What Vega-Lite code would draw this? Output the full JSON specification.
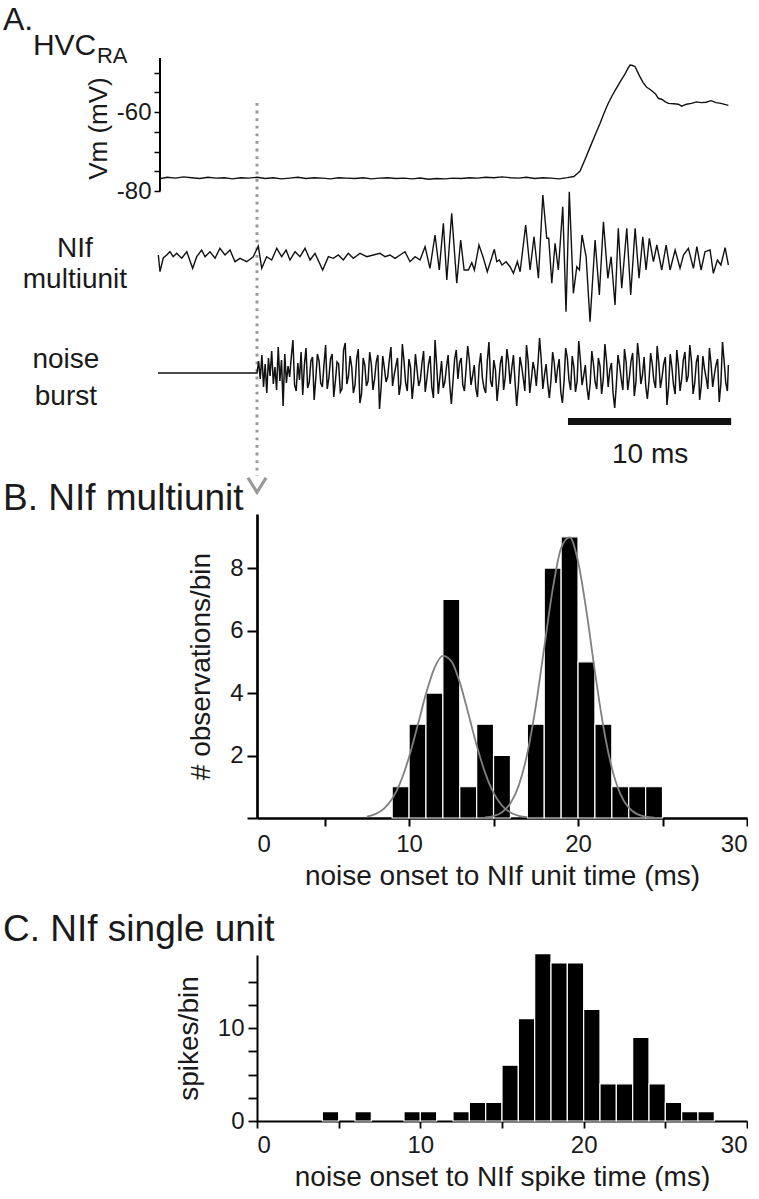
{
"$schema": "https://vega.github.io/schema/vega-lite/v6.json",
"padding": {"left": 3, "top": 3, "right": 0, "bottom": 0},
"bounds": "flush",
"spacing": 137,
"config": {
  "view": {"stroke": null},
  "font": "Liberation Sans",
  "axis": {"labelFont": "Liberation Sans", "titleFont": "Liberation Sans", "labelColor": "#1a1a1a", "titleColor": "#1a1a1a", "domainColor": "#000", "tickColor": "#000", "grid": false, "titleFontWeight": "normal", "labelFontSize": 24, "titleFontSize": 28, "zindex": 1},
  "title": {"font": "Liberation Sans", "fontWeight": "normal", "color": "#1a1a1a", "anchor": "start", "frame": "group"},
  "text": {"font": "Liberation Sans", "color": "#1a1a1a"}
},
"datasets": {
  "hvc": [
    {"t":-5.88,"v":-76.8},{"t":-5.5,"v":-76.5},{"t":-5.0,"v":-76.7},{"t":-4.5,"v":-76.4},{"t":-4.0,"v":-76.6},{"t":-3.5,"v":-76.8},{"t":-3.0,"v":-76.5},{"t":-2.5,"v":-76.7},{"t":-2.0,"v":-76.6},{"t":-1.5,"v":-76.9},{"t":-1.0,"v":-76.6},{"t":-0.5,"v":-76.7},{"t":0,"v":-76.5},{"t":0.5,"v":-76.8},{"t":1.0,"v":-76.6},{"t":1.5,"v":-76.9},{"t":2.0,"v":-76.7},{"t":2.5,"v":-76.5},{"t":3.0,"v":-76.8},{"t":3.5,"v":-76.6},{"t":4.0,"v":-76.7},{"t":4.5,"v":-76.9},{"t":5.0,"v":-76.6},{"t":5.5,"v":-76.7},{"t":6.0,"v":-76.8},{"t":6.5,"v":-76.6},{"t":7.0,"v":-76.9},{"t":7.5,"v":-76.7},{"t":8.0,"v":-76.6},{"t":8.5,"v":-76.8},{"t":9.0,"v":-76.7},{"t":9.5,"v":-76.9},{"t":10.0,"v":-76.7},{"t":10.5,"v":-77.0},{"t":11.0,"v":-76.8},{"t":11.5,"v":-76.9},{"t":12.0,"v":-76.7},{"t":12.5,"v":-76.8},{"t":13.0,"v":-76.6},{"t":13.5,"v":-76.7},{"t":14.0,"v":-76.5},{"t":14.5,"v":-76.6},{"t":15.0,"v":-76.4},{"t":15.5,"v":-76.6},{"t":16.0,"v":-76.7},{"t":16.5,"v":-76.5},{"t":17.0,"v":-76.8},{"t":17.5,"v":-76.6},{"t":18.0,"v":-76.7},{"t":18.5,"v":-76.9},{"t":19.0,"v":-76.6},{"t":19.4,"v":-76.3},{"t":19.6,"v":-75.6},{"t":19.78,"v":-74.9},{"t":20.1,"v":-71.8},{"t":20.4,"v":-68.8},{"t":20.7,"v":-65.8},{"t":21.0,"v":-62.9},{"t":21.25,"v":-60.2},{"t":21.5,"v":-57.8},{"t":21.75,"v":-55.8},{"t":22.0,"v":-54.0},{"t":22.25,"v":-52.2},{"t":22.5,"v":-50.6},{"t":22.7,"v":-49.0},{"t":22.84,"v":-48.1},{"t":23.0,"v":-48.2},{"t":23.15,"v":-48.5},{"t":23.3,"v":-49.8},{"t":23.45,"v":-51.1},{"t":23.65,"v":-52.6},{"t":23.86,"v":-53.7},{"t":24.05,"v":-54.2},{"t":24.26,"v":-54.9},{"t":24.4,"v":-55.4},{"t":24.57,"v":-56.5},{"t":24.8,"v":-56.8},{"t":25.0,"v":-57.4},{"t":25.19,"v":-57.8},{"t":25.5,"v":-57.9},{"t":25.8,"v":-58.0},{"t":26.0,"v":-58.5},{"t":26.3,"v":-58.0},{"t":26.6,"v":-57.8},{"t":26.9,"v":-57.4},{"t":27.2,"v":-57.6},{"t":27.5,"v":-57.5},{"t":27.8,"v":-57.1},{"t":28.1,"v":-57.6},{"t":28.4,"v":-57.8},{"t":28.86,"v":-58.3}
  ],
  "nif": [
    {"t":-6.04,"v":3},{"t":-5.94,"v":-13.7},{"t":-5.74,"v":0},{"t":-5.53,"v":3},{"t":-5.33,"v":6.3},{"t":-5.13,"v":1.3},{"t":-4.92,"v":4.7},{"t":-4.61,"v":-0.3},{"t":-4.30,"v":6.3},{"t":-3.94,"v":-10.3},{"t":-3.69,"v":1.3},{"t":-3.39,"v":8},{"t":-3.18,"v":1.3},{"t":-2.88,"v":6.3},{"t":-2.57,"v":-0.3},{"t":-2.27,"v":9.7},{"t":-1.96,"v":3},{"t":-1.65,"v":8},{"t":-1.35,"v":-3.7},{"t":-1.04,"v":-0.3},{"t":-0.63,"v":-3.7},{"t":-0.23,"v":1.3},{"t":0.08,"v":12},{"t":0.29,"v":-10.3},{"t":0.59,"v":1.3},{"t":0.90,"v":-2},{"t":1.21,"v":9.7},{"t":1.51,"v":1.3},{"t":1.78,"v":8},{"t":2.02,"v":-2},{"t":2.33,"v":6.3},{"t":2.63,"v":1.3},{"t":2.94,"v":9.7},{"t":3.25,"v":-2},{"t":3.55,"v":4.7},{"t":4.02,"v":-12},{"t":4.37,"v":1.3},{"t":4.67,"v":-0.3},{"t":4.98,"v":3},{"t":5.28,"v":-2},{"t":5.59,"v":4.7},{"t":5.90,"v":-0.3},{"t":6.31,"v":4.7},{"t":6.72,"v":1.3},{"t":7.12,"v":3},{"t":7.53,"v":4.7},{"t":7.84,"v":1.3},{"t":8.14,"v":3},{"t":8.45,"v":-0.3},{"t":8.76,"v":3},{"t":9.06,"v":6.3},{"t":9.37,"v":-3.7},{"t":9.68,"v":1.3},{"t":9.98,"v":-2},{"t":10.29,"v":11.3},{"t":10.59,"v":-10.3},{"t":10.90,"v":23},{"t":11.16,"v":-12},{"t":11.41,"v":34.7},{"t":11.62,"v":-22},{"t":11.92,"v":44.7},{"t":12.23,"v":-25.3},{"t":12.47,"v":18},{"t":12.68,"v":-12},{"t":12.94,"v":-12},{"t":13.15,"v":-4.7},{"t":13.31,"v":-12},{"t":13.59,"v":13},{"t":13.86,"v":0},{"t":14.10,"v":-13.7},{"t":14.53,"v":8.7},{"t":14.68,"v":-3.7},{"t":14.84,"v":-2},{"t":15.00,"v":-7},{"t":15.25,"v":-3.7},{"t":15.49,"v":-8.7},{"t":15.70,"v":-15.3},{"t":15.94,"v":-3.7},{"t":16.11,"v":-13.7},{"t":16.45,"v":33},{"t":16.72,"v":-12},{"t":16.96,"v":21.3},{"t":17.23,"v":-20.3},{"t":17.50,"v":63},{"t":17.74,"v":19.7},{"t":17.86,"v":19.7},{"t":18.05,"v":-25.3},{"t":18.25,"v":14.7},{"t":18.45,"v":-12},{"t":18.72,"v":51.3},{"t":18.92,"v":-53.7},{"t":19.12,"v":66.3},{"t":19.37,"v":-35.3},{"t":19.58,"v":-8.7},{"t":19.74,"v":-12},{"t":19.90,"v":23},{"t":20.15,"v":1.3},{"t":20.39,"v":-63.7},{"t":20.70,"v":18},{"t":20.96,"v":-37},{"t":21.21,"v":36.3},{"t":21.48,"v":-20.3},{"t":21.68,"v":1.3},{"t":21.92,"v":-47},{"t":22.12,"v":29.7},{"t":22.33,"v":-30.3},{"t":22.64,"v":29.7},{"t":22.88,"v":-37},{"t":23.15,"v":29.7},{"t":23.39,"v":-20.3},{"t":23.62,"v":21.3},{"t":23.82,"v":-12},{"t":24.02,"v":19.7},{"t":24.27,"v":-3.7},{"t":24.48,"v":13},{"t":24.78,"v":-12},{"t":25.05,"v":13},{"t":25.29,"v":-12},{"t":25.60,"v":8},{"t":25.90,"v":-10.3},{"t":26.11,"v":3},{"t":26.41,"v":9.7},{"t":26.72,"v":-10.3},{"t":26.93,"v":11.3},{"t":27.19,"v":-12},{"t":27.43,"v":6.3},{"t":27.74,"v":8},{"t":27.94,"v":-15.3},{"t":28.19,"v":-2},{"t":28.40,"v":-7},{"t":28.66,"v":10.3},{"t":28.86,"v":-7}
  ],
  "noise": [
    {"t":-6.06,"v":0},{"t":0,"v":0},
    {"t":0.1,"v":12},{"t":0.2,"v":-6},{"t":0.3,"v":18},{"t":0.4,"v":-14},{"t":0.5,"v":9},{"t":0.6,"v":-20},{"t":0.7,"v":15},{"t":0.8,"v":-3},{"t":0.9,"v":22},{"t":1.0,"v":-11},
    {"t":1.1,"v":6},{"t":1.2,"v":-17},{"t":1.3,"v":26},{"t":1.4,"v":-8},{"t":1.5,"v":13},{"t":1.6,"v":-33},{"t":1.7,"v":19},{"t":1.8,"v":-10},{"t":1.9,"v":7},{"t":2.0,"v":-4},
    {"t":2.1,"v":16},{"t":2.2,"v":33},{"t":2.3,"v":-12},{"t":2.4,"v":-18},{"t":2.5,"v":10},{"t":2.6,"v":-7},{"t":2.7,"v":21},{"t":2.8,"v":-22},{"t":2.9,"v":8},{"t":3.0,"v":25},
    {"t":3.1,"v":-15},{"t":3.2,"v":-9},{"t":3.3,"v":12},{"t":3.4,"v":16},{"t":3.5,"v":-27},{"t":3.6,"v":-5},{"t":3.7,"v":19},{"t":3.8,"v":12},{"t":3.9,"v":-10},{"t":4.0,"v":-14},
    {"t":4.1,"v":8},{"t":4.2,"v":28},{"t":4.3,"v":-16},{"t":4.4,"v":-5},{"t":4.5,"v":14},{"t":4.6,"v":19},{"t":4.7,"v":-24},{"t":4.8,"v":-8},{"t":4.9,"v":11},{"t":5.0,"v":9},
    {"t":5.1,"v":-19},{"t":5.2,"v":-16},{"t":5.3,"v":23},{"t":5.4,"v":30},{"t":5.5,"v":-11},{"t":5.6,"v":-3},{"t":5.7,"v":17},{"t":5.8,"v":6},{"t":5.9,"v":-20},{"t":6.0,"v":-12},
    {"t":6.1,"v":14},{"t":6.2,"v":24},{"t":6.3,"v":-30},{"t":6.4,"v":-21},{"t":6.5,"v":15},{"t":6.6,"v":8},{"t":6.7,"v":-13},{"t":6.8,"v":-8},{"t":6.9,"v":21},{"t":7.0,"v":9},
    {"t":7.1,"v":-17},{"t":7.2,"v":-6},{"t":7.3,"v":11},{"t":7.4,"v":18},{"t":7.5,"v":-36},{"t":7.6,"v":-14},{"t":7.7,"v":17},{"t":7.8,"v":5},{"t":7.9,"v":-9},{"t":8.0,"v":-4},
    {"t":8.1,"v":13},{"t":8.2,"v":26},{"t":8.3,"v":-13},{"t":8.4,"v":-2},{"t":8.5,"v":7},{"t":8.6,"v":15},{"t":8.7,"v":-22},{"t":8.8,"v":-11},{"t":8.9,"v":29},{"t":9.0,"v":12},
    {"t":9.1,"v":-10},{"t":9.2,"v":-18},{"t":9.3,"v":14},{"t":9.4,"v":6},{"t":9.5,"v":-26},{"t":9.6,"v":-9},{"t":9.7,"v":19},{"t":9.8,"v":3},{"t":9.9,"v":-13},{"t":10.0,"v":-7},
    {"t":10.1,"v":10},{"t":10.2,"v":22},{"t":10.3,"v":-19},{"t":10.4,"v":-6},{"t":10.5,"v":9},{"t":10.6,"v":17},{"t":10.7,"v":-14},{"t":10.8,"v":-25},{"t":10.9,"v":33},{"t":11.0,"v":8},
    {"t":11.1,"v":-21},{"t":11.2,"v":-4},{"t":11.3,"v":12},{"t":11.4,"v":-15},{"t":11.5,"v":-9},{"t":11.6,"v":6},{"t":11.7,"v":18},{"t":11.8,"v":-12},{"t":11.9,"v":-31},{"t":12.0,"v":-8},
    {"t":12.1,"v":14},{"t":12.2,"v":23},{"t":12.3,"v":-6},{"t":12.4,"v":10},{"t":12.5,"v":15},{"t":12.6,"v":-12},{"t":12.7,"v":-18},{"t":12.8,"v":4},{"t":12.9,"v":27},{"t":13.0,"v":13},
    {"t":13.1,"v":-12},{"t":13.2,"v":-3},{"t":13.3,"v":8},{"t":13.4,"v":-16},{"t":13.5,"v":-24},{"t":13.6,"v":7},{"t":13.7,"v":20},{"t":13.8,"v":-5},{"t":13.9,"v":-15},{"t":14.0,"v":-20},
    {"t":14.1,"v":12},{"t":14.2,"v":31},{"t":14.3,"v":-8},{"t":14.4,"v":-14},{"t":14.5,"v":13},{"t":14.6,"v":3},{"t":14.7,"v":-28},{"t":14.8,"v":-10},{"t":14.9,"v":10},{"t":15.0,"v":17},
    {"t":15.1,"v":-17},{"t":15.2,"v":-4},{"t":15.3,"v":24},{"t":15.4,"v":11},{"t":15.5,"v":-11},{"t":15.6,"v":5},{"t":15.7,"v":18},{"t":15.8,"v":-9},{"t":15.9,"v":-33},{"t":16.0,"v":-13},
    {"t":16.1,"v":16},{"t":16.2,"v":7},{"t":16.3,"v":-5},{"t":16.4,"v":-18},{"t":16.5,"v":28},{"t":16.6,"v":12},{"t":16.7,"v":-20},{"t":16.8,"v":-6},{"t":16.9,"v":11},{"t":17.0,"v":3},
    {"t":17.1,"v":-13},{"t":17.2,"v":9},{"t":17.3,"v":35},{"t":17.4,"v":14},{"t":17.5,"v":-16},{"t":17.6,"v":-2},{"t":17.7,"v":9},{"t":17.8,"v":-11},{"t":17.9,"v":-25},{"t":18.0,"v":-7},
    {"t":18.1,"v":21},{"t":18.2,"v":10},{"t":18.3,"v":-10},{"t":18.4,"v":4},{"t":18.5,"v":14},{"t":18.6,"v":-19},{"t":18.7,"v":-30},{"t":18.8,"v":-8},{"t":18.9,"v":25},{"t":19.0,"v":15},
    {"t":19.1,"v":-7},{"t":19.2,"v":-17},{"t":19.3,"v":17},{"t":19.4,"v":6},{"t":19.5,"v":-19},{"t":19.6,"v":-8},{"t":19.7,"v":32},{"t":19.8,"v":13},{"t":19.9,"v":-12},{"t":20.0,"v":-3},
    {"t":20.1,"v":8},{"t":20.2,"v":-14},{"t":20.3,"v":-27},{"t":20.4,"v":-10},{"t":20.5,"v":22},{"t":20.6,"v":9},{"t":20.7,"v":-9},{"t":20.8,"v":-16},{"t":20.9,"v":15},{"t":21.0,"v":7},
    {"t":21.1,"v":-21},{"t":21.2,"v":-6},{"t":21.3,"v":29},{"t":21.4,"v":12},{"t":21.5,"v":-14},{"t":21.6,"v":3},{"t":21.7,"v":10},{"t":21.8,"v":-20},{"t":21.9,"v":-35},{"t":22.0,"v":-12},
    {"t":22.1,"v":18},{"t":22.2,"v":8},{"t":22.3,"v":-6},{"t":22.4,"v":-17},{"t":22.5,"v":24},{"t":22.6,"v":11},{"t":22.7,"v":-17},{"t":22.8,"v":-4},{"t":22.9,"v":12},{"t":23.0,"v":20},
    {"t":23.1,"v":-23},{"t":23.2,"v":-9},{"t":23.3,"v":30},{"t":23.4,"v":14},{"t":23.5,"v":-11},{"t":23.6,"v":-2},{"t":23.7,"v":16},{"t":23.8,"v":-13},{"t":23.9,"v":-26},{"t":24.0,"v":-8},
    {"t":24.1,"v":20},{"t":24.2,"v":9},{"t":24.3,"v":-8},{"t":24.4,"v":-15},{"t":24.5,"v":27},{"t":24.6,"v":10},{"t":24.7,"v":-15},{"t":24.8,"v":-4},{"t":24.9,"v":9},{"t":25.0,"v":16},
    {"t":25.1,"v":-32},{"t":25.2,"v":-14},{"t":25.3,"v":19},{"t":25.4,"v":6},{"t":25.5,"v":-12},{"t":25.6,"v":-21},{"t":25.7,"v":23},{"t":25.8,"v":8},{"t":25.9,"v":-18},{"t":26.0,"v":-6},
    {"t":26.1,"v":13},{"t":26.2,"v":21},{"t":26.3,"v":-9},{"t":26.4,"v":-3},{"t":26.5,"v":28},{"t":26.6,"v":12},{"t":26.7,"v":-21},{"t":26.8,"v":-10},{"t":26.9,"v":11},{"t":27.0,"v":18},
    {"t":27.1,"v":-27},{"t":27.2,"v":-13},{"t":27.3,"v":17},{"t":27.4,"v":4},{"t":27.5,"v":-5},{"t":27.6,"v":-16},{"t":27.7,"v":25},{"t":27.8,"v":9},{"t":27.9,"v":-14},{"t":28.0,"v":-2},
    {"t":28.1,"v":8},{"t":28.2,"v":14},{"t":28.3,"v":-29},{"t":28.4,"v":-11},{"t":28.5,"v":31},{"t":28.6,"v":12},{"t":28.7,"v":-10},{"t":28.8,"v":-18},{"t":28.86,"v":8}
  ],
  "bhist": [
    {"s":9,"e":10,"n":1},{"s":10,"e":11,"n":3},{"s":11,"e":12,"n":4},{"s":12,"e":13,"n":7},{"s":13,"e":14,"n":1},{"s":14,"e":15,"n":3},{"s":15,"e":16,"n":2},{"s":17,"e":18,"n":3},{"s":18,"e":19,"n":8},{"s":19,"e":20,"n":9},{"s":20,"e":21,"n":5},{"s":21,"e":22,"n":3},{"s":22,"e":23,"n":1},{"s":23,"e":24,"n":1},{"s":24,"e":25,"n":1}
  ],
  "bfit": [
    {"c":"early","t":7.5,"v":0.047},{"c":"early","t":8.0,"v":0.124},{"c":"early","t":8.5,"v":0.292},{"c":"early","t":9.0,"v":0.614},{"c":"early","t":9.5,"v":1.158},{"c":"early","t":10.0,"v":1.952},{"c":"early","t":10.5,"v":2.943},{"c":"early","t":11.0,"v":3.973},{"c":"early","t":11.5,"v":4.80},{"c":"early","t":12.0,"v":5.19},{"c":"early","t":12.5,"v":5.02},{"c":"early","t":13.0,"v":4.34},{"c":"early","t":13.5,"v":3.36},{"c":"early","t":14.0,"v":2.33},{"c":"early","t":14.5,"v":1.445},{"c":"early","t":15.0,"v":0.802},{"c":"early","t":15.5,"v":0.398},{"c":"early","t":16.0,"v":0.177},{"c":"early","t":16.5,"v":0.070},{"c":"early","t":17.0,"v":0.025},
    {"c":"late","t":14.5,"v":0.020},{"c":"late","t":15.0,"v":0.064},{"c":"late","t":15.5,"v":0.186},{"c":"late","t":16.0,"v":0.471},{"c":"late","t":16.5,"v":1.053},{"c":"late","t":17.0,"v":2.072},{"c":"late","t":17.5,"v":3.583},{"c":"late","t":18.0,"v":5.459},{"c":"late","t":18.5,"v":7.32},{"c":"late","t":19.0,"v":8.64},{"c":"late","t":19.5,"v":8.98},{"c":"late","t":20.0,"v":8.21},{"c":"late","t":20.5,"v":6.61},{"c":"late","t":21.0,"v":4.68},{"c":"late","t":21.5,"v":2.92},{"c":"late","t":22.0,"v":1.605},{"c":"late","t":22.5,"v":0.775},{"c":"late","t":23.0,"v":0.330},{"c":"late","t":23.5,"v":0.124},{"c":"late","t":24.0,"v":0.041},{"c":"late","t":24.5,"v":0.012}
  ],
  "chist": [
    {"s":4,"e":5,"n":1},{"s":6,"e":7,"n":1},{"s":9,"e":10,"n":1},{"s":10,"e":11,"n":1},{"s":12,"e":13,"n":1},{"s":13,"e":14,"n":2},{"s":14,"e":15,"n":2},{"s":15,"e":16,"n":6},{"s":16,"e":17,"n":11},{"s":17,"e":18,"n":18},{"s":18,"e":19,"n":17},{"s":19,"e":20,"n":17},{"s":20,"e":21,"n":12},{"s":21,"e":22,"n":4},{"s":22,"e":23,"n":4},{"s":23,"e":24,"n":9},{"s":24,"e":25,"n":4},{"s":25,"e":26,"n":2},{"s":26,"e":27,"n":1},{"s":27,"e":28,"n":1}
  ]
},
"vconcat": [
  {
    "width": 490, "height": 319,
    "data": {"values": [{}]},
    "title": {"text": "A.", "fontSize": 32, "dx": -254, "offset": -6},
    "resolve": {"scale": {"y": "independent"}, "axis": {"y": "independent"}},
    "layer": [
      {"data": {"name": "hvc"}, "mark": {"type": "line", "color": "#111", "strokeWidth": 1.4},
       "encoding": {
         "x": {"field": "t", "type": "quantitative", "scale": {"domain": [0, 30], "nice": false, "zero": false}, "axis": null},
         "y": {"field": "v", "type": "quantitative", "scale": {"domain": [-127.06, -46.3], "nice": false, "zero": false},
               "axis": {"orient": "left", "offset": 97, "domain": false, "values": [-80, -75, -70, -65, -60, -55, -50], "tickSize": 6, "tickWidth": 1.5,
                        "labelExpr": "datum.value == -60 ? '-60' : (datum.value == -80 ? '-80' : '')", "labelPadding": 3, "labelFontSize": 24,
                        "title": "Vm (mV)", "titleFontSize": 26, "titleX": -54, "titleY": 70, "titleBaseline": "alphabetic", "titleAngle": -90}}}},
      {"mark": {"type": "rule", "color": "#000", "strokeWidth": 2},
       "encoding": {
         "x": {"datum": -5.94, "type": "quantitative", "scale": {"domain": [0, 30], "nice": false, "zero": false}},
         "y": {"datum": -80, "type": "quantitative", "scale": {"domain": [-127.06, -46.3], "nice": false, "zero": false}, "axis": null},
         "y2": {"datum": -46.3}}},
      {"mark": {"type": "rule", "color": "#999999", "strokeWidth": 3, "strokeDash": [2.8, 4.8]},
       "encoding": {
         "x": {"datum": 0, "type": "quantitative", "scale": {"domain": [0, 30], "nice": false, "zero": false}},
         "y": {"datum": -57.69, "type": "quantitative", "scale": {"domain": [-127.06, -46.3], "nice": false, "zero": false}, "axis": null},
         "y2": {"datum": -152.12}}},
      {"mark": {"type": "point", "shape": "M-1,-0.8L0,0.8L1,-0.8", "filled": false, "stroke": "#999999", "strokeWidth": 3.2, "size": 330, "opacity": 1},
       "encoding": {
         "x": {"datum": 0, "type": "quantitative", "scale": {"domain": [0, 30], "nice": false, "zero": false}},
         "y": {"datum": -154.4, "type": "quantitative", "scale": {"domain": [-127.06, -46.3], "nice": false, "zero": false}, "axis": null}}},
      {"mark": {"type": "text", "text": "HVC", "fontSize": 30, "align": "left", "baseline": "alphabetic"},
       "encoding": {
         "x": {"datum": -13.72, "type": "quantitative", "scale": {"domain": [0, 30], "nice": false, "zero": false}},
         "y": {"datum": -45.54, "type": "quantitative", "scale": {"domain": [-127.06, -46.3], "nice": false, "zero": false}, "axis": null}}},
      {"mark": {"type": "text", "text": "RA", "fontSize": 22, "align": "left", "baseline": "alphabetic"},
       "encoding": {
         "x": {"datum": -9.8, "type": "quantitative", "scale": {"domain": [0, 30], "nice": false, "zero": false}},
         "y": {"datum": -47.57, "type": "quantitative", "scale": {"domain": [-127.06, -46.3], "nice": false, "zero": false}, "axis": null}}},
      {"data": {"name": "nif"}, "mark": {"type": "line", "color": "#111", "strokeWidth": 1.4},
       "encoding": {
         "x": {"field": "t", "type": "quantitative", "scale": {"domain": [0, 30], "nice": false, "zero": false}},
         "y": {"field": "v", "type": "quantitative", "scale": {"domain": [-119, 200], "nice": false, "zero": false}, "axis": null}}},
      {"mark": {"type": "text", "text": ["NIf", "multiunit"], "fontSize": 28, "align": "center", "baseline": "alphabetic", "lineHeight": 31},
       "encoding": {
         "x": {"datum": -11.15, "type": "quantitative", "scale": {"domain": [0, 30], "nice": false, "zero": false}},
         "y": {"datum": 1, "type": "quantitative", "scale": {"domain": [-119, 200], "nice": false, "zero": false}, "axis": null}}},
      {"data": {"name": "noise"}, "mark": {"type": "line", "color": "#111", "strokeWidth": 1.5},
       "encoding": {
         "x": {"field": "t", "type": "quantitative", "scale": {"domain": [0, 30], "nice": false, "zero": false}},
         "y": {"field": "v", "type": "quantitative", "scale": {"domain": [-4, 315], "nice": false, "zero": false}, "axis": null}}},
      {"mark": {"type": "text", "text": ["noise", "burst"], "fontSize": 28, "align": "center", "baseline": "alphabetic", "lineHeight": 37},
       "encoding": {
         "x": {"datum": -11.7, "type": "quantitative", "scale": {"domain": [0, 30], "nice": false, "zero": false}},
         "y": {"datum": 5, "type": "quantitative", "scale": {"domain": [-4, 315], "nice": false, "zero": false}, "axis": null}}},
      {"mark": {"type": "rule", "color": "#111", "strokeWidth": 7},
       "encoding": {
         "x": {"datum": 19.04, "type": "quantitative", "scale": {"domain": [0, 30], "nice": false, "zero": false}},
         "x2": {"datum": 29.03},
         "y": {"datum": -48.5, "type": "quantitative", "scale": {"domain": [-4, 315], "nice": false, "zero": false}, "axis": null}}},
      {"mark": {"type": "text", "text": "10 ms", "fontSize": 28, "align": "center", "baseline": "alphabetic"},
       "encoding": {
         "x": {"datum": 24.07, "type": "quantitative", "scale": {"domain": [0, 30], "nice": false, "zero": false}},
         "y": {"datum": -90, "type": "quantitative", "scale": {"domain": [-4, 315], "nice": false, "zero": false}, "axis": null}}}
    ]
  },
  {
    "width": 490, "height": 304,
    "title": {"text": "B. NIf multiunit", "fontSize": 37, "dx": -254, "offset": -4},
    "layer": [
      {"data": {"name": "bhist"}, "mark": {"type": "rect", "color": "#000", "stroke": "#fff", "strokeWidth": 1.2},
       "encoding": {
         "x": {"field": "s", "type": "quantitative", "scale": {"domain": [1, 30], "nice": false, "zero": false},
               "axis": {"values": [1, 5, 10, 15, 20, 25, 30], "labelExpr": "datum.value == 1 ? '0' : (datum.value % 10 == 0 ? datum.label : '')",
                        "tickOpacity": {"condition": {"test": "datum.value == 1", "value": 0}, "value": 1},
                        "tickSize": 8, "tickWidth": 2, "domainWidth": 2.7, "labelPadding": 6, "labelFontSize": 24,
                        "title": "noise onset to NIf unit time (ms)", "titleFontSize": 28, "titlePadding": 6}},
         "x2": {"field": "e"},
         "y": {"field": "n", "type": "quantitative", "scale": {"domain": [0, 9.73], "nice": false},
               "axis": {"values": [0, 1, 2, 3, 4, 5, 6, 7, 8, 9], "labelExpr": "datum.value > 0 && datum.value % 2 == 0 ? datum.label : ''",
                        "tickSize": 10, "tickWidth": 2, "domainWidth": 2.7, "labelPadding": 4, "labelFontSize": 24,
                        "title": "# observations/bin", "titleFontSize": 28, "titlePadding": 14}},
         "y2": {"datum": 0}}},
      {"data": {"name": "bfit"}, "mark": {"type": "line", "color": "#808080", "strokeWidth": 1.8, "interpolate": "monotone"},
       "encoding": {
         "x": {"field": "t", "type": "quantitative", "scale": {"domain": [1, 30], "nice": false, "zero": false}},
         "y": {"field": "v", "type": "quantitative", "scale": {"domain": [0, 9.73], "nice": false}},
         "detail": {"field": "c"}}}
    ]
  },
  {
    "width": 490, "height": 166,
    "title": {"text": "C. NIf single unit", "fontSize": 37, "dx": -254, "offset": 4},
    "data": {"name": "chist"},
    "mark": {"type": "rect", "color": "#000", "stroke": "#fff", "strokeWidth": 1.2},
    "encoding": {
      "x": {"field": "s", "type": "quantitative", "scale": {"domain": [0, 30], "nice": false, "zero": false},
            "axis": {"values": [0, 5, 10, 15, 20, 25, 30], "labelExpr": "datum.value % 10 == 0 ? datum.label : ''",
                     "tickSize": 7, "tickWidth": 1.8, "domainWidth": 2, "labelPadding": 5, "labelFontSize": 24,
                     "title": "noise onset to NIf spike time (ms)", "titleFontSize": 28, "titlePadding": 6}},
      "x2": {"field": "e"},
      "y": {"field": "n", "type": "quantitative", "scale": {"domain": [0, 17.85], "nice": false},
            "axis": {"values": [0, 2.5, 5, 7.5, 10, 12.5, 15], "labelExpr": "datum.value == 0 ? '0' : (datum.value == 10 ? '10' : '')",
                     "tickSize": 9, "tickWidth": 1.8, "domainWidth": 2, "labelPadding": 4, "labelFontSize": 24,
                     "title": "spikes/bin", "titleFontSize": 28, "titlePadding": 14}},
      "y2": {"datum": 0}
    }
  }
]
}
